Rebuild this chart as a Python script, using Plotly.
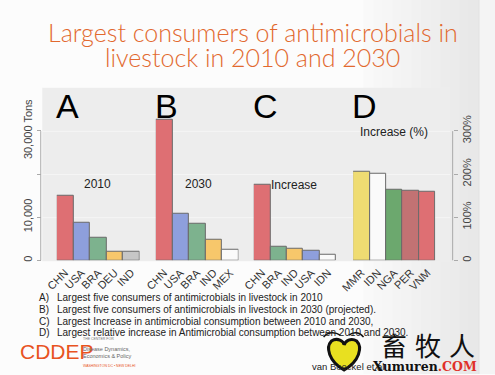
import plotly.graph_objects as go
from plotly.subplots import make_subplots

# ---- data ----
cats_a = ["CHN", "USA", "BRA", "DEU", "IND"]
tons_2010 = [14900, 8600, 5300, 1900, 1900]
cats_b = ["CHN", "USA", "BRA", "IND", "MEX"]
tons_2030 = [32600, 10900, 8400, 4650, 2550]
cats_c = ["CHN", "BRA", "IND", "USA", "IDN"]
tons_increase = [17400, 3200, 2700, 2300, 1200]
cats_d = ["MMR", "IDN", "NGA", "PER", "VNM"]
pct_increase = [206, 201, 163, 162, 158]

left_tickvals = [0, 10000, 20000, 30000]
left_ticktext = ["0", "10,000", "", "30,000 Tons"]
right_tickvals = [0, 100, 200, 300]
right_ticktext = ["0", "100%", "200%", "300%"]

panel_letters = ["A", "B", "C", "D"]
panel_labels = ["2010", "2030", "Increase", "Increase (%)"]
captions = [
    ("A)", "Largest five consumers of antimicrobials in livestock in 2010"),
    ("B)", "Largest five consumers of antimicrobials in livestock in 2030 (projected)."),
    ("C)", "Largest Increase in antimicrobial consumption between 2010 and 2030,"),
    ("D)", "Largest relative increase in Antimicrobial consumption between 2010 and 2030."),
]

# ---- styles ----
RED, BLUE, GREEN, YEL, GRAY, WHITE = "#DE6F73", "#8E9FDC", "#7DB28E", "#F7C76B", "#C6C6C6", "#FAFAFA"
colors_a = [RED, BLUE, GREEN, YEL, GRAY]
colors_b = [RED, BLUE, GREEN, YEL, WHITE]
colors_c = [RED, GREEN, YEL, BLUE, WHITE]
colors_d = ["#EFDC72", WHITE, "#6CA86E", "#C27273", RED]

W, H = 495, 375
px = lambda x: x / W
py = lambda y: 1 - y / H

fig = make_subplots(rows=1, cols=4)
panels = [(cats_a, tons_2010, colors_a), (cats_b, tons_2030, colors_b),
          (cats_c, tons_increase, colors_c), (cats_d, pct_increase, colors_d)]
for i, (c, v, col) in enumerate(panels):
    fig.add_trace(go.Bar(x=c, y=v, marker=dict(color=col, line=dict(color="#6a6a6a", width=1)),
                         showlegend=False, hoverinfo="x+y"), row=1, col=i + 1)

dom_x = [(45, 130), (146.7, 231.5), (247.3, 332), (349.3, 434)]
ydom = [py(261), py(88)]
for i, (a, b) in enumerate(dom_x):
    n = "" if i == 0 else str(i + 1)
    fig.layout["xaxis" + n].update(domain=[px(a), px(b)], tickangle=-45, showgrid=False,
                                   tickfont=dict(size=11, color="#333", family="Liberation Sans"),
                                   ticks="", range=[-0.5, 4.5], ticklabelstandoff=3)
    yax = dict(domain=ydom, showgrid=False, zeroline=False, range=[0, 40000])
    if i == 0:
        yax.update(anchor="free", position=px(28.5), tickvals=left_tickvals, ticktext=left_ticktext,
                   tickangle=-90, ticks="outside", ticklen=4, tickcolor="#aaa",
                   tickfont=dict(size=11, color="#444", family="Liberation Sans"), showticklabels=True)
    elif i == 3:
        yax.update(range=[0, 400], anchor="free", position=px(451.5), side="right",
                   tickvals=right_tickvals, ticktext=right_ticktext, tickangle=-90,
                   ticks="outside", ticklen=4, tickcolor="#aaa",
                   tickfont=dict(size=11, color="#444", family="Liberation Sans"))
    else:
        yax.update(showticklabels=False)
    fig.layout["yaxis" + n].update(**yax)

shapes = []
# slide background: soft horizontal gradient toward the right edge
steps = 12
for k in range(steps):
    x0 = 360 + k * (118 / steps)
    g = int(251 - (251 - 232) * (k + 1) / steps)
    shapes.append(dict(type="rect", xref="paper", yref="paper", x0=px(x0), x1=px(x0 + 118 / steps + 0.5),
                       y0=0, y1=1, fillcolor=f"rgb({g},{g},{g})", line_width=0, layer="below"))
shapes.append(dict(type="rect", xref="paper", yref="paper", x0=px(478), x1=1, y0=0, y1=1,
                   fillcolor="#f4f4f4", line_width=0, layer="below"))
shapes.append(dict(type="line", xref="paper", yref="paper", x0=px(478.5), x1=px(478.5), y0=0, y1=1,
                   line=dict(color="#dedede", width=1), layer="below"))
# plot background
shapes.append(dict(type="rect", xref="paper", yref="paper", x0=px(30), x1=px(449), y0=py(262), y1=py(88),
                   fillcolor="#ededed", line_width=0, layer="below"))
for yv in [218.3, 175, 131.7]:
    shapes.append(dict(type="line", xref="paper", yref="paper", x0=px(30), x1=px(449), y0=py(yv), y1=py(yv),
                       line=dict(color="#f5f5f5", width=1), layer="below"))
# axis lines
shapes.append(dict(type="line", xref="paper", yref="paper", x0=px(28.5), x1=px(28.5), y0=py(261), y1=py(131.5),
                   line=dict(color="#aaa", width=1)))
shapes.append(dict(type="line", xref="paper", yref="paper", x0=px(451.5), x1=px(451.5), y0=py(261), y1=py(131.5),
                   line=dict(color="#aaa", width=1)))


def path_of(pts, close=True):
    c = [(px(x), py(y)) for x, y in pts]
    s = "M {} {}".format(*c[0])
    for j in range(1, len(c), 3):
        s += " C {} {}, {} {}, {} {}".format(*c[j], *c[j + 1], *c[j + 2])
    return s + (" Z" if close else "")


# heart logo
hp = [(340, 371), (324, 362), (321, 348), (327, 342), (333, 338), (340, 342), (340, 346),
      (341, 342), (347, 338), (353, 342), (359, 348), (356, 362), (340, 371)]
shapes.append(dict(type="path", xref="paper", yref="paper", path=path_of(hp), fillcolor="#E8E020",
                   line=dict(color="#111", width=3)))
# eyelashes
shapes.append(dict(type="path", xref="paper", yref="paper",
                   path=path_of([(319, 338), (323, 333), (330, 332), (336, 336)], close=False),
                   line=dict(color="#111", width=1.5)))
shapes.append(dict(type="path", xref="paper", yref="paper",
                   path=path_of([(345, 336), (350, 332), (356, 333), (360, 338)], close=False),
                   line=dict(color="#111", width=1.5)))


def text(x, y, t, size, color="#222", family="Liberation Sans", xa="center", ya="middle", **kw):
    d = dict(x=px(x), y=py(y), xref="paper", yref="paper", showarrow=False, text=t,
             xanchor=xa, yanchor=ya, font=dict(size=size, color=color, family=family))
    d.update(kw)
    return d


ann = []
ann.append(text(246, 32, "Largest consumers of antimicrobials in", 25, "#E2692F", "Lato Light, Lato"))
ann.append(text(246, 57, "livestock in 2010 and 2030", 25, "#E2692F", "Lato Light, Lato"))
for (a, b), letter in zip(dom_x, panel_letters):
    ann.append(text(a - 3, 106, letter, 34, "#000", xa="left"))
lab_pos = [(87, 184), (190, 184), (289, 185), (391, 132)]
for (x, y), t in zip(lab_pos, panel_labels):
    ann.append(text(x, y, t, 12, "#222", "Liberation Sans Narrow, Liberation Sans"))
for k, (lbl, t) in enumerate(captions):
    yy = 298.5 + 11.7 * k
    ann.append(text(25, yy, lbl, 10, xa="left"))
    ann.append(text(43, yy, t, 10, xa="left"))
# CDDEP logo
ann.append(text(6, 352, "CDDEP", 21, "#E8531F", "Liberation Sans Narrow, Liberation Sans", xa="left",
                borderpad=0))
ann.append(text(71, 340, "THE CENTER FOR", 3.5, "#777", xa="left", borderpad=0))
ann.append(text(71, 353, "Disease Dynamics,<br>Economics &amp; Policy", 5.5, "#666", xa="left", align="left",
                borderpad=0))
ann.append(text(71, 367, "WASHINGTON DC • NEW DELHI", 3.5, "#E8531F", xa="left", borderpad=0))
# citation and watermark
ann.append(text(305, 367, "van Boeckel et al", 9.5, xa="left"))
for cx, ch in zip([391, 426, 461], ["畜", "牧", "人"]):
    ann.append(text(cx, 345, ch, 26, "#111", "Noto Sans CJK SC", borderpad=0))
ann.append(text(369, 367, "<b>Xumuren</b><span style='color:#E0302A'><b>.COM</b></span>", 12.5,
                "#111", "DejaVu Serif", xa="left", borderpad=0))

fig.update_layout(width=W, height=H, margin=dict(l=0, r=0, t=0, b=0), bargap=0,
                  paper_bgcolor="#fcfcfc", plot_bgcolor="rgba(0,0,0,0)",
                  shapes=shapes, annotations=ann, showlegend=False)
fig.write_html("out.html", config={"displayModeBar": False},
               post_script="document.body.style.margin='0';document.body.style.overflow='hidden';")
